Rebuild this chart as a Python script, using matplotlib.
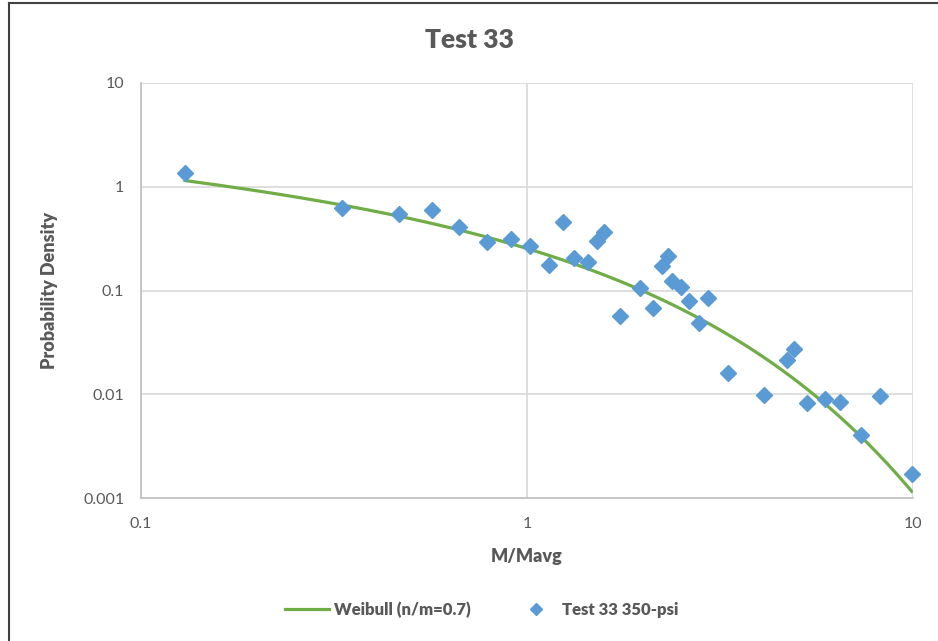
import numpy as np
import matplotlib.pyplot as plt
from math import gamma

plt.rcParams['font.family'] = ['Lato', 'DejaVu Sans']

# measured points: normalised mass vs probability density
m_ratio = [0.130, 0.332, 0.466, 0.567, 0.667, 0.787, 0.908, 1.018, 1.14, 1.24,
           1.32, 1.44, 1.52, 1.58, 1.74, 1.96, 2.12, 2.24, 2.32, 2.38,
           2.50, 2.63, 2.79, 2.95, 3.31, 4.12, 4.72, 4.93, 5.32, 5.90,
           6.47, 7.35, 8.21, 9.92]
density = [1.36, 0.628, 0.549, 0.600, 0.411, 0.295, 0.313, 0.266, 0.176, 0.457,
           0.204, 0.189, 0.297, 0.366, 0.0571, 0.105, 0.0682, 0.174, 0.215, 0.123,
           0.107, 0.0797, 0.0489, 0.0846, 0.0162, 0.00975, 0.0214, 0.0271, 0.00822, 0.0090,
           0.00847, 0.00407, 0.00961, 0.00170]

shape = 0.7  # Weibull shape n/m

x_ticks = [0.1, 1, 10]
x_tick_labels = ['0.1', '1', '10']
y_ticks = [0.001, 0.01, 0.1, 1, 10]
y_tick_labels = ['0.001', '0.01', '0.1', '1', '10']

# Weibull pdf with unit mean
scale = 1.0 / gamma(1 + 1 / shape)
xs = np.logspace(np.log10(min(m_ratio)), np.log10(max(m_ratio)), 300)
pdf = (shape / scale) * (xs / scale) ** (shape - 1) * np.exp(-(xs / scale) ** shape)

grey = '#595959'
fig = plt.figure(figsize=(9.38, 6.41), dpi=100)
ax = fig.add_axes([141 / 938, 1 - 498 / 641, 772 / 938, 415 / 641])

ax.plot(xs, pdf, color='#70AD47', lw=2.3, label='Weibull (n/m=0.7)', zorder=3)
ax.plot(m_ratio, density, 'D', color='#5B9BD5', ms=8, mec='#5B9BD5',
        label='Test 33 350-psi', zorder=4, clip_on=False)

ax.set_xscale('log')
ax.set_yscale('log')
ax.set_xlim(0.1, 10)
ax.set_ylim(0.001, 10)
ax.set_xticks(x_ticks)
ax.set_xticklabels(x_tick_labels)
ax.set_yticks(y_ticks)
ax.set_yticklabels(y_tick_labels)
ax.minorticks_off()
ax.tick_params(length=0, labelsize=11.5, colors=grey, pad=12)
ax.tick_params(axis='x', pad=14)
ax.grid(True, color='#d9d9d9', lw=1.2)
for side in ['top', 'right']:
    ax.spines[side].set_visible(False)
for side in ['left', 'bottom']:
    ax.spines[side].set_color('#bfbfbf')
    ax.spines[side].set_linewidth(1.2)

ax.set_xlabel('M/Mavg', fontsize=13, fontweight='heavy', color=grey, labelpad=12)
ax.set_ylabel('Probability Density', fontsize=13, fontweight='heavy', color=grey, labelpad=18)
fig.text(0.5, 1 - 40 / 641, 'Test 33', ha='center', va='center',
         fontsize=19, fontweight='heavy', color=grey)

fig.legend(loc='center', bbox_to_anchor=(482 / 938, 1 - 610 / 641), ncol=2, frameon=False,
           prop={'weight': 'heavy', 'size': 12}, labelcolor=grey, markerscale=0.75,
           handlelength=2.6, columnspacing=2.6, handletextpad=0.3)

# chart frame
fig.add_artist(plt.Line2D([9 / 938, 9 / 938], [0, 1 - 3 / 641], color='#404040', lw=1.5))
fig.add_artist(plt.Line2D([9 / 938, 1], [1 - 3 / 641, 1 - 3 / 641], color='#404040', lw=1.5))

fig.savefig('out.png', dpi=100)
